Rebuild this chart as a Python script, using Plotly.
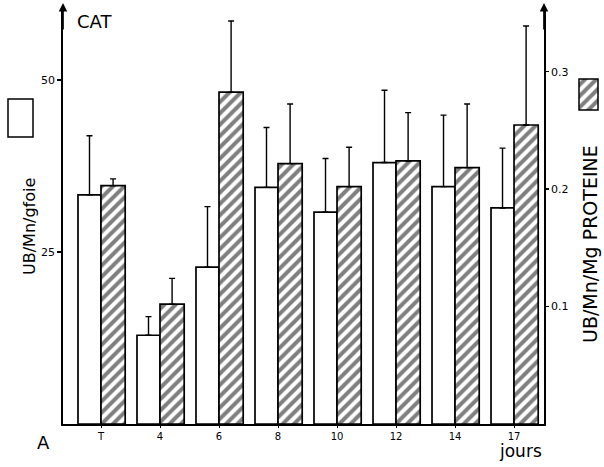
import plotly.graph_objects as go

# ---- data ----
days = ["T", "4", "6", "8", "10", "12", "14", "17"]
cat_liver = [33.3, 12.9, 22.8, 34.4, 30.8, 38.0, 34.5, 31.4]          # UB/Mn/g foie (left axis)
cat_liver_err = [8.6, 2.7, 8.8, 8.7, 7.8, 10.5, 10.4, 8.7]
cat_protein = [0.203, 0.102, 0.2825, 0.2217, 0.2021, 0.224, 0.2183, 0.2546]  # UB/Mn/Mg proteine (right axis)
cat_protein_err = [0.0057, 0.022, 0.0607, 0.0508, 0.0335, 0.0411, 0.0542, 0.0843]
left_ticks = [25, 50]
right_ticks = [0.1, 0.2, 0.3]
right_ticktext = ["0.1", "0.2", "0.3"]

# ---- layout geometry (pixels) ----
W, H = 604, 467
X0, X1 = 63, 544      # left / right axis
YT, YB = 10, 424      # plot top / baseline
FONT = "DejaVu Sans"

def fx(px):
    return px / W

def fy(py):
    return 1 - py / H

xpos = list(range(len(days)))
n = len(days)

hatch = dict(shape="/", fgcolor="black", bgcolor="white", size=8, solidity=0.5)

fig = go.Figure()

fig.add_trace(go.Bar(
    x=xpos, y=cat_liver, yaxis="y", width=0.39, offset=-0.39,
    marker=dict(color="white", line=dict(color="black", width=1.7)),
    error_y=dict(type="data", array=cat_liver_err, arrayminus=[0] * n, symmetric=False,
                 color="black", thickness=1.4, width=3),
    showlegend=False, hoverinfo="skip"))

fig.add_trace(go.Bar(
    x=xpos, y=cat_protein, yaxis="y2", width=0.41, offset=0,
    marker=dict(color="white", line=dict(color="black", width=1.7), pattern=hatch),
    error_y=dict(type="data", array=cat_protein_err, arrayminus=[0] * n, symmetric=False,
                 color="black", thickness=1.4, width=3),
    showlegend=False, hoverinfo="skip"))

# hatched legend swatch on a tiny auxiliary axis pair
fig.add_trace(go.Bar(
    x=[0], y=[1], xaxis="x3", yaxis="y3", width=1,
    marker=dict(color="white", line=dict(color="black", width=1.5), pattern=hatch),
    showlegend=False, hoverinfo="skip"))

left_top = (YB - YT) / 6.88
right_top = (424.2 - YT) / 1175


def label(px, py, text, size, angle=0):
    return dict(x=fx(px), y=fy(py), xref="paper", yref="paper", text=text,
                showarrow=False, textangle=angle, xanchor="center", yanchor="middle",
                font=dict(size=size))


fig.update_layout(
    width=W, height=H,
    margin=dict(l=0, r=0, t=0, b=0),
    paper_bgcolor="white", plot_bgcolor="white",
    barmode="overlay",
    font=dict(family=FONT, color="black"),
    xaxis=dict(domain=[fx(X0), fx(X1)], range=[-0.644, 7.508],
               tickvals=xpos, ticktext=days, showline=True, linecolor="black", linewidth=1.7,
               ticks="outside", ticklen=2, tickcolor="black", tickfont=dict(size=10),
               showgrid=False, zeroline=False, fixedrange=True),
    yaxis=dict(domain=[fy(YB), fy(YT)], range=[0, left_top],
               tickvals=left_ticks, showline=True, linecolor="black", linewidth=1.7,
               ticks="outside", ticklen=4, tickcolor="black", tickwidth=1.5,
               tickfont=dict(size=11), showgrid=False, zeroline=False),
    yaxis2=dict(overlaying="y", side="right", anchor="x", range=[0, right_top],
                tickvals=right_ticks, ticktext=right_ticktext, showline=True,
                linecolor="black", linewidth=1.7, ticks="outside", ticklen=3,
                tickcolor="black", tickwidth=1.5, tickfont=dict(size=11),
                showgrid=False, zeroline=False),
    xaxis3=dict(domain=[fx(577), fx(600)], range=[-0.605, 0.605], visible=False, anchor="y3"),
    yaxis3=dict(domain=[fy(113), fy(76)], range=[-0.097, 1.097], visible=False, anchor="x3"),
    shapes=[
        dict(type="rect", xref="paper", yref="paper",
             x0=fx(8), x1=fx(33), y0=fy(137), y1=fy(99),
             line=dict(color="black", width=1.5), fillcolor="white"),
    ],
    annotations=[
        # axis arrows
        dict(x=fx(X0), y=fy(3), xref="paper", yref="paper", ax=0, ay=28, text="",
             showarrow=True, arrowhead=2, arrowsize=1, arrowwidth=1.7, arrowcolor="black"),
        dict(x=fx(X1), y=fy(3), xref="paper", yref="paper", ax=0, ay=28, text="",
             showarrow=True, arrowhead=2, arrowsize=1, arrowwidth=1.7, arrowcolor="black"),
        label(94, 21, "CAT", 18),
        label(29, 227, "UB/Mn/gfoie", 16, -90),
        label(590, 244, "UB/Mn/Mg PROTEINE", 19, -90),
        label(43, 442, "A", 18),
        label(520, 451, "jours", 17),
    ],
)

fig.write_html("out.html", post_script="document.body.style.margin='0';",
               config={"displayModeBar": False, "staticPlot": True})
